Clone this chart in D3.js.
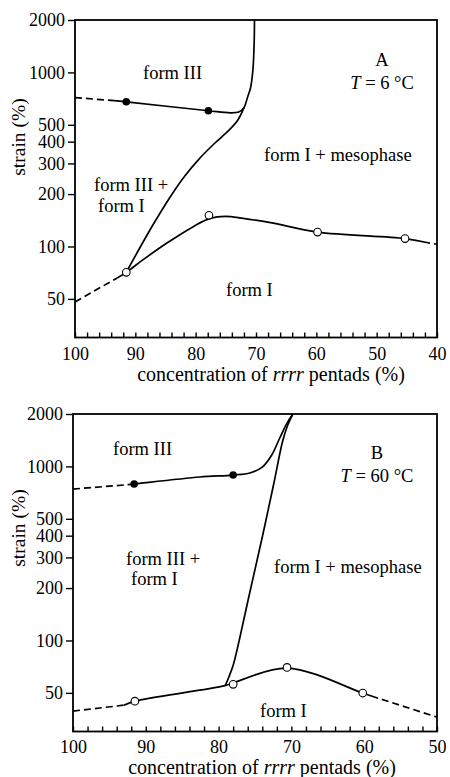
<html>
<head>
<script src="https://d3js.org/d3.v7.min.js"></script>
<style>
body { margin: 0; background: white; }
text { font-family: "Liberation Serif", "Times New Roman", serif; fill: black; }
</style>
</head>
<body>
<script>
// axis ticks
var yTicks = [50, 100, 200, 300, 400, 500, 1000, 2000];

// ---- panel A (T = 6 C) ----
var concA_form3Dash = [100, 93.5], strainA_form3Dash = [716, 689];
var concA_form3 = [93.5, 91.5, 77.9, 74.2, 72.8, 72.0, 71.4, 70.9, 70.5, 70.3, 70.25];
var strainA_form3 = [689, 678, 602, 586, 594, 627, 720, 816, 1050, 1500, 2000];
var concA_bound = [91.5, 89.2, 86.7, 84.25, 81.8, 79.3, 76.8, 74.6, 73.0, 72.0];
var strainA_bound = [71, 99, 140, 192, 254, 322, 393, 461, 533, 627];
var concA_form1Dash = [100, 93], strainA_form1Dash = [48, 66];
var concA_form1 = [93, 91.5, 88.7, 84.7, 80.4, 77.6, 75.1, 72.1, 67.6, 59.8, 45.3, 41.5];
var strainA_form1 = [66, 71, 84, 105, 130, 145, 149, 145, 137, 121, 111, 105];
var concA_form1DashR = [41.5, 40], strainA_form1DashR = [105, 103];
var concA_open = [91.5, 77.8, 59.8, 45.3], strainA_open = [71, 151, 121, 111];
var concA_filled = [91.5, 77.9], strainA_filled = [678, 602];

// ---- panel B (T = 60 C) ----
var concB_form3Dash = [100, 92.5], strainB_form3Dash = [741, 785];
var concB_form3 = [92.5, 91.6, 82.6, 78.0, 75.7, 74.0, 72.7, 71.6, 70.6, 69.8];
var strainB_form3 = [785, 792, 869, 892, 917, 991, 1163, 1456, 1774, 2000];
var concB_bound = [79.1, 78.6, 78.0, 77.1, 75.7, 74.0, 72.4, 71.2, 70.5, 69.8];
var strainB_bound = [55, 61.5, 72, 103, 190, 393, 803, 1399, 1730, 2000];
var concB_form1Dash = [100, 93], strainB_form1Dash = [39.3, 42.5];
var concB_form1 = [93, 91.5, 82.6, 79.1, 78.0, 70.6, 60.2, 58.1];
var strainB_form1 = [42.5, 44.8, 51.8, 55, 57, 69.4, 49.9, 46.6];
var concB_form1DashR = [58.1, 50], strainB_form1DashR = [46.6, 36.3];
var concB_open = [91.5, 78.0, 70.6, 60.2], strainB_open = [44.8, 56, 70, 49.9];
var concB_filled = [91.6, 78.0], strainB_filled = [792, 892];

var svg = d3.select("body").append("svg").attr("width", 450).attr("height", 777);

function drawPanel(p) {
    var x = d3.scaleLinear().domain(p.xDomain).range([p.left, p.right]);
    var y = d3.scaleLog().domain([30, 2000]).range([p.bottom, p.top]);
    var g = svg.append("g");

    var line = d3.line().curve(d3.curveCatmullRom.alpha(0.5))
        .x(function(d) { return x(d[0]); })
        .y(function(d) { return y(d[1]); });
    var straight = d3.line()
        .x(function(d) { return x(d[0]); })
        .y(function(d) { return y(d[1]); });

    // curves
    p.solid.forEach(function(s) {
        g.append("path").attr("d", line(d3.zip(s[0], s[1])))
            .attr("fill", "none").attr("stroke", "black").attr("stroke-width", 1.7);
    });
    // dashed extensions: [conc, strain, dash offset]
    p.dashed.forEach(function(s) {
        g.append("path").attr("d", straight(d3.zip(s[0], s[1])))
            .attr("fill", "none").attr("stroke", "black").attr("stroke-width", 1.7)
            .attr("stroke-dasharray", "7,4").attr("stroke-dashoffset", s[2]);
    });

    // markers
    g.selectAll(".filled").data(d3.zip(p.filled[0], p.filled[1])).enter()
        .append("circle").attr("cx", function(d) { return x(d[0]); })
        .attr("cy", function(d) { return y(d[1]); }).attr("r", 3.8).attr("fill", "black");
    g.selectAll(".open").data(d3.zip(p.open[0], p.open[1])).enter()
        .append("circle").attr("cx", function(d) { return x(d[0]); })
        .attr("cy", function(d) { return y(d[1]); }).attr("r", 3.8)
        .attr("fill", "white").attr("stroke", "black").attr("stroke-width", 1.1);

    // frame
    g.append("rect").attr("x", p.left).attr("y", p.top)
        .attr("width", p.right - p.left).attr("height", p.bottom - p.top)
        .attr("fill", "none").attr("stroke", "black").attr("stroke-width", 1.8);

    // axes
    var yAxis = d3.axisLeft(y).tickValues(yTicks).tickFormat(d3.format("d"))
        .tickSize(7).tickPadding(3);
    var ya = g.append("g").attr("transform", "translate(" + p.left + ",0)").call(yAxis);

    var xAxis = d3.axisBottom(x).tickValues(d3.range(p.xDomain[1], p.xDomain[0] + 1, 2))
        .tickSize(-5).tickPadding(p.xPad)
        .tickFormat(function(d) { return d % 10 === 0 ? d : ""; });
    var xa = g.append("g").attr("transform", "translate(0," + p.bottom + ")").call(xAxis);

    [ya, xa].forEach(function(a) {
        a.select(".domain").remove();
        a.selectAll("line").attr("stroke-width", 1.4);
        a.selectAll("text").style("font-size", "18px")
            .style("font-family", '"Liberation Serif", serif');
    });

    // axis titles
    g.append("text").attr("transform", "translate(25," + p.yTitleY + ") rotate(-90)")
        .attr("text-anchor", "middle").style("font-size", "19.5px").text("strain (%)");
    var xt = g.append("text").attr("x", p.xTitleX).attr("y", p.xTitleY)
        .attr("text-anchor", "middle").style("font-size", "20px");
    xt.append("tspan").text("concentration of ");
    xt.append("tspan").style("font-style", "italic").text("rrrr");
    xt.append("tspan").text(" pentads (%)");

    // panel letter and temperature
    g.append("text").attr("x", p.tagX).attr("y", p.tagY).attr("text-anchor", "middle")
        .style("font-size", "18.5px").text(p.tag);
    var tt = g.append("text").attr("x", p.tagX).attr("y", p.tagY + 23)
        .attr("text-anchor", "middle").style("font-size", "18.5px");
    tt.append("tspan").style("font-style", "italic").text("T");
    tt.append("tspan").text(" = " + p.temp + " \u00B0C");

    // region labels
    p.labels.forEach(function(l) {
        g.append("text").attr("x", l[0]).attr("y", l[1])
            .style("font-size", "18.5px").text(l[2]);
    });
}

drawPanel({
    xDomain: [100, 40], left: 75, right: 437, top: 20, bottom: 337.5, xPad: 10,
    solid: [[concA_form3, strainA_form3], [concA_bound, strainA_bound], [concA_form1, strainA_form1]],
    dashed: [[concA_form3Dash, strainA_form3Dash, 0], [concA_form1Dash, strainA_form1Dash, 0],
             [concA_form1DashR, strainA_form1DashR, 5]],
    open: [concA_open, strainA_open], filled: [concA_filled, strainA_filled],
    yTitleY: 137, xTitleX: 271, xTitleY: 381,
    tag: "A", temp: "6", tagX: 382, tagY: 66,
    labels: [[143, 79, "form III"], [94, 191, "form III +"], [98, 212, "form I"],
             [264, 161, "form I + mesophase"], [226, 296, "form I"]]
});

drawPanel({
    xDomain: [100, 50], left: 73, right: 437, top: 414, bottom: 731.5, xPad: 9,
    solid: [[concB_form3, strainB_form3], [concB_bound, strainB_bound], [concB_form1, strainB_form1]],
    dashed: [[concB_form3Dash, strainB_form3Dash, 0], [concB_form1Dash, strainB_form1Dash, 0],
             [concB_form1DashR, strainB_form1DashR, 7]],
    open: [concB_open, strainB_open], filled: [concB_filled, strainB_filled],
    yTitleY: 528, xTitleX: 262, xTitleY: 773.5,
    tag: "B", temp: "60", tagX: 377, tagY: 459,
    labels: [[113, 455, "form III"], [126, 565, "form III +"], [131, 585, "form I"],
             [274, 573, "form I + mesophase"], [260, 717, "form I"]]
});
</script>
</body>
</html>
